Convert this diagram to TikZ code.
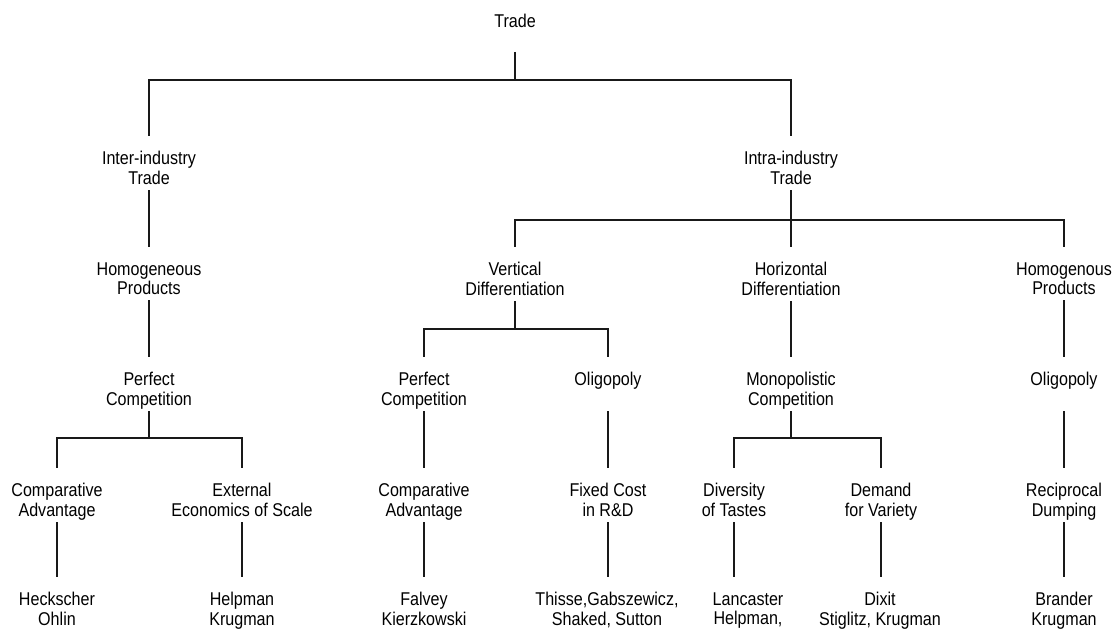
\documentclass[tikz,border=0pt]{standalone}
\usepackage{fontspec}
\setmainfont[FakeStretch=0.87]{Liberation Sans}
\begin{document}
\begin{tikzpicture}[x=1pt,y=1pt,
  lbl/.style={anchor=north, inner sep=0pt, outer sep=0pt, align=center,
    font=\fontsize{18.5}{19.5}\selectfont,
    execute at begin node=\strut, execute at end node=\strut},
  link/.style={line width=1.3pt, draw=black!90},
  tochild/.style={link, shorten >=15pt}]

\fill[white] (0,0) rectangle (1112,-630);
\useasboundingbox (0,0) rectangle (1112,-630);

% ---- level 0
\node[lbl] (trade) at (515,-13.35) {Trade};

% ---- level 1
\node[lbl] (inter) at (149,-151.35) {Inter-industry\\Trade};
\node[lbl] (intra) at (791,-151.35) {Intra-industry\\Trade};

% ---- level 2
\node[lbl] (homl)  at (149,-262.35)  {Homogeneous\\Products};
\node[lbl] (vdiff) at (515,-262.35)  {Vertical\\Differentiation};
\node[lbl] (hdiff) at (791,-262.35)  {Horizontal\\Differentiation};
\node[lbl] (homr)  at (1064,-262.35) {Homogenous\\Products};

% ---- level 3
\node[lbl] (pcl)   at (149,-372.35)  {Perfect\\Competition};
\node[lbl] (pcm)   at (424,-372.35)  {Perfect\\Competition};
\node[lbl] (oligm) at (608,-372.35)  {Oligopoly\\\mbox{}};
\node[lbl] (mono)  at (791,-372.35)  {Monopolistic\\Competition};
\node[lbl] (oligr) at (1064,-372.35) {Oligopoly\\\mbox{}};

% ---- level 4
\node[lbl] (cal) at (57,-483.35)   {Comparative\\Advantage};
\node[lbl] (ext) at (242,-483.35)  {External\\Economics of Scale};
\node[lbl] (cam) at (424,-483.35)  {Comparative\\Advantage};
\node[lbl] (fix) at (608,-483.35)  {Fixed Cost\\in R\&D};
\node[lbl] (div) at (734,-483.35)  {Diversity\\of Tastes};
\node[lbl] (dem) at (881,-483.35)  {Demand\\for Variety};
\node[lbl] (rec) at (1064,-483.35) {Reciprocal\\Dumping};

% ---- level 5: authors
\node[lbl] (hec) at (57,-592.35)   {Heckscher\\Ohlin};
\node[lbl] (hel) at (242,-592.35)  {Helpman\\Krugman};
\node[lbl] (fal) at (424,-592.35)  {Falvey\\Kierzkowski};
\node[lbl] (thi) at (607,-592.35)  {Thisse,Gabszewicz,\\Shaked, Sutton};
\node[lbl] (lan) at (748,-592.35)  {Lancaster\\Helpman,};
\node[lbl] (dix) at (880,-592.35)  {Dixit\\Stiglitz, Krugman};
\node[lbl] (bra) at (1064,-592.35) {Brander\\Krugman};

% ---- branching points
\coordinate (tj) at (515,-80);
\coordinate (ij) at (791,-220);
\coordinate (vj) at (515,-329);
\coordinate (pj) at (149,-438);
\coordinate (mj) at (791,-438);

% ---- connectors
\draw[link, shorten <=19pt] (trade.south) -- (tj);
\draw[tochild] (tj) -| (inter.north);
\draw[tochild] (tj) -| (intra.north);

\draw[tochild] (inter.south) -- (homl.north);
\draw[tochild] (homl.south) -- (pcl.north);
\draw[link] (pcl.south) -- (pj);
\draw[tochild] (pj) -| (cal.north);
\draw[tochild] (pj) -| (ext.north);
\draw[tochild] (cal.south) -- (cal.south |- hec.north);
\draw[tochild] (ext.south) -- (ext.south |- hel.north);

\draw[tochild] (intra.south) -- (hdiff.north);
\draw[tochild] (ij) -| (vdiff.north);
\draw[tochild] (ij) -| (homr.north);

\draw[link] (vdiff.south) -- (vj);
\draw[tochild] (vj) -| (pcm.north);
\draw[tochild] (vj) -| (oligm.north);
\draw[tochild] (pcm.south) -- (cam.north);
\draw[tochild] (cam.south) -- (cam.south |- fal.north);
\draw[tochild] (oligm.south) -- (fix.north);
\draw[tochild] (fix.south) -- (fix.south |- thi.north);

\draw[tochild] (hdiff.south) -- (mono.north);
\draw[link] (mono.south) -- (mj);
\draw[tochild] (mj) -| (div.north);
\draw[tochild] (mj) -| (dem.north);
\draw[tochild] (div.south) -- (div.south |- lan.north);
\draw[tochild] (dem.south) -- (dem.south |- dix.north);

\draw[tochild] (homr.south) -- (oligr.north);
\draw[tochild] (oligr.south) -- (rec.north);
\draw[tochild] (rec.south) -- (rec.south |- bra.north);
\end{tikzpicture}
\end{document}
